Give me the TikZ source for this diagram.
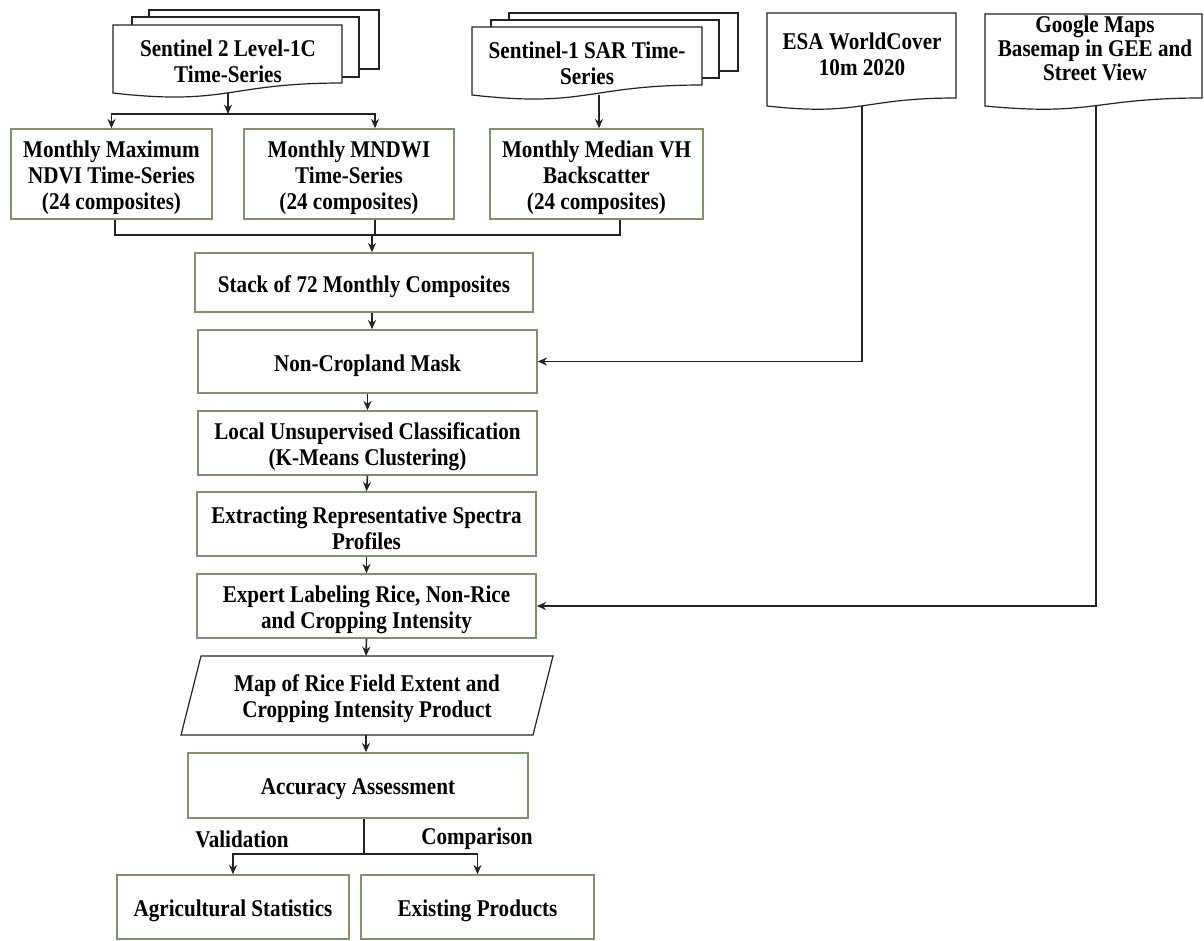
\documentclass[tikz,border=0pt]{standalone}
\usepackage{fontspec}
\setmainfont{Liberation Serif}[FakeStretch=0.88]
\usetikzlibrary{arrows.meta,calc}
\definecolor{boxgreen}{RGB}{122,150,102}
\definecolor{lineblk}{RGB}{35,35,35}
\newcommand\gbox[6]{\node[box, minimum width={(#4-#2)*0.75pt}, minimum height={(#5-#3)*0.75pt}] (#1) at ({(#2+#4)/2},{(#3+#5)/2}) {};
  \node[txt] (#1t) at ([yshift=-3pt]#1.center) {#6};}
\newcommand\docshape[5]{\draw[docline] (#1,#2) -- (#3,#2) -- (#3,#4) .. controls ({(#1+#3)/2},#4) and ({(#1+#3)/2},{#4+2.31*(#5-#4)}) .. (#1,#5) -- cycle;}
\begin{document}
\begin{tikzpicture}[x=0.75pt,y=-0.75pt,
  font=\fontsize{18}{19.5}\selectfont\bfseries,
  box/.style={draw=boxgreen, line width=1.1pt, fill=white, inner sep=0pt},
  docline/.style={draw=lineblk, line width=0.9pt, fill=white},
  txt/.style={align=center, inner sep=0pt},
  conn/.style={draw=lineblk, line width=1.2pt},
  arr/.style={conn, -{Stealth[length=7pt,width=6pt]}}]
\useasboundingbox (0,0) rectangle (1204,940);

% ---------- source documents ----------
\draw[docline] (149,10) rectangle (379,69);
\draw[docline] (132,17) rectangle (359,77);
\docshape{113}{25}{342}{83}{93}
\node[txt] (s2) at (228,61) {Sentinel 2 Level-1C\\Time-Series};

\draw[docline] (509,13) rectangle (738,71);
\draw[docline] (491,20) rectangle (719,78);
\docshape{472}{27}{702}{85}{95}
\node[txt] (s1) at (587,63) {Sentinel-1 SAR Time-\\Series};

\docshape{767}{13}{956}{98}{106}
\node[txt] (esa) at (862,54) {ESA WorldCover\\10m 2020};

\docshape{985}{14}{1202}{98}{106}
\node[txt, font=\fontsize{18}{18}\selectfont\bfseries] (gm) at (1095,48) {Google Maps\\Basemap in GEE and\\Street View};

\coordinate (s2b) at (228,93);
\coordinate (s1b) at (599,95);
\coordinate (esab) at (862,106);
\coordinate (gmb) at (1096,106);

% ---------- boxes ----------
\gbox{ndvi}{11}{129}{212}{219}{Monthly Maximum\\NDVI Time-Series\\(24 composites)}
\gbox{mndwi}{244}{129}{454}{219}{Monthly MNDWI\\Time-Series\\(24 composites)}
\gbox{vh}{490}{129}{703}{219}{Monthly Median VH\\Backscatter\\(24 composites)}
\gbox{stack}{195}{253}{533}{312}{Stack of 72 Monthly Composites}
\gbox{mask}{198}{330}{537}{393}{Non-Cropland Mask}
\gbox{kmeans}{198}{411}{537}{475}{Local Unsupervised Classification\\(K-Means Clustering)}
\gbox{extract}{197}{492}{536}{556}{Extracting Representative Spectra\\Profiles}
\gbox{expert}{197}{574}{536}{638}{Expert Labeling Rice, Non-Rice\\and Cropping Intensity}

\draw[draw=lineblk, line width=0.9pt] (201,656) -- (553,656) -- (533,735) -- (181,735) -- cycle;
\node[txt] (map) at (367,699) {Map of Rice Field Extent and\\Cropping Intensity Product};
\coordinate (mapt) at (366,656);
\coordinate (mapb) at (366,735);

\gbox{acc}{188}{753}{528}{818}{Accuracy Assessment}
\gbox{agri}{117}{875}{349}{939}{Agricultural Statistics}
\gbox{exist}{361}{875}{594}{939}{Existing Products}

\node[txt] (val) at (242,839) {Validation};
\node[txt] (cmp) at (477,839) {Comparison};

% ---------- connectors ----------
\coordinate (s2j) at (228,114);
\coordinate (mj) at (375,114);
\draw[arr] (s2b) -- (s2j);
\draw[arr] (s2j) -| (ndvi.north);
\draw[arr] (s2j) -- (mj) -- (mj |- mndwi.north);
\draw[arr] (s1b) -- (s1b |- vh.north);

\coordinate (j1) at (115,235);
\coordinate (j3) at (620,235);
\draw[conn] (j1 |- ndvi.south) -- (j1) -- (j3) -- (j3 |- vh.south);
\draw[conn] (mj |- mndwi.south) -- (mj |- j1);
\coordinate (sj) at (372,235);
\draw[arr] (sj) -- (sj |- stack.north);

\draw[arr] (stack.south -| sj) -- (sj |- mask.north);
\draw[arr] (mask.south) -- (kmeans.north);
\draw[arr] (kmeans.south) -- (extract.north);
\draw[arr] (extract.south) -- (expert.north);
\draw[arr] (expert.south) -- (mapt);
\draw[arr] (mapb) -- (mapb |- acc.north);

\draw[arr] (esab) |- (mask.east);
\draw[arr] (gmb) |- (expert.east);

\coordinate (sp) at (364,854);
\draw[conn] (sp |- acc.south) -- (sp);
\draw[arr] (sp) -| (agri.north);
\draw[arr] (sp) -| (exist.north);
\end{tikzpicture}
\end{document}
